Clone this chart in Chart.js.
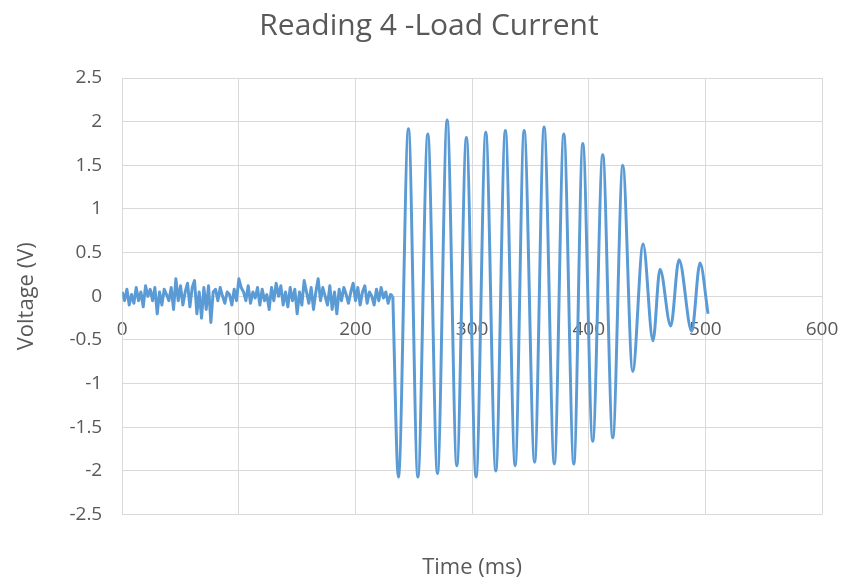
<!DOCTYPE html>
<html>
<head>
<meta charset="utf-8">
<title>Reading 4 - Load Current</title>
<script src="https://cdn.jsdelivr.net/npm/chart.js@4.4.1/dist/chart.umd.min.js"></script>
<style>
    html, body { margin: 0; padding: 0; background: #ffffff; }
    #wrap { width: 848px; height: 588px; }
</style>
</head>
<body>
<div id="wrap"><canvas id="loadChart"></canvas></div>
<script>
// Idle noise before the load switches on (ms, V)
const noiseTime = [
    0, 2, 4, 6, 8, 10, 12, 14, 16, 18, 20, 22, 24, 26, 28, 30, 32, 34, 36, 38,
    40, 42, 44, 46, 48, 50, 52, 54, 56, 58, 60, 62, 64, 66, 68, 70, 72, 74, 76, 78,
    80, 82, 84, 86, 88, 90, 92, 94, 96, 98, 100, 102, 104, 106, 108, 110, 112, 114, 116, 118,
    120, 122, 124, 126, 128, 130, 132, 134, 136, 138, 140, 142, 144, 146, 148, 150, 152, 154, 156, 158,
    160, 162, 164, 166, 168, 170, 172, 174, 176, 178, 180, 182, 184, 186, 188, 190, 192, 194, 196, 198,
    200, 202, 204, 206, 208, 210, 212, 214, 216, 218, 220, 222, 224, 226, 228, 230, 232
];
const noiseVolt = [
    0.05, -0.05, 0.08, -0.1, 0.02, -0.08, 0.1, -0.05, 0.05, -0.12, 0.12, 0.0, 0.08, -0.05, 0.1, -0.2, 0.05, -0.1, 0.08, 0.02,
    -0.05, 0.1, -0.15, 0.2, -0.05, 0.12, -0.1, 0.05, 0.15, -0.12, 0.1, 0.18, -0.2, 0.05, -0.25, 0.1, -0.15, 0.12, -0.3, 0.05,
    0.08, -0.05, 0.1, 0.0, -0.08, 0.05, 0.02, -0.1, 0.08, -0.05, 0.2, 0.1, 0.05, -0.05, 0.12, -0.08, 0.05, -0.02, 0.1, -0.1,
    0.08, -0.05, 0.02, -0.15, 0.1, -0.05, 0.15, 0.0, 0.12, -0.1, 0.05, -0.12, 0.1, -0.05, 0.08, -0.2, 0.05, -0.1, 0.18, 0.05,
    -0.08, 0.1, -0.15, 0.05, 0.2, -0.05, 0.1, 0.0, -0.1, 0.12, -0.15, 0.05, -0.2, 0.08, -0.05, 0.1, 0.02, -0.08, 0.05, 0.15,
    -0.05, 0.1, -0.1, 0.05, 0.12, -0.08, 0.05, 0.0, -0.1, 0.08, -0.05, 0.1, -0.02, 0.05, -0.08, 0.02, 0.0
];

// Load current oscillation: peaks and troughs (ms, V)
const waveTime = [
    232, 236.8, 245.4, 253.5, 262.0, 270.3, 278.6, 286.9, 295.1, 303.4, 311.7,
    320.3, 328.5, 336.9, 344.6, 353.6, 361.7, 370.5, 378.6, 387.2, 394.9,
    403.4, 412.0, 420.6, 429.2, 437.7, 446.6, 455.1, 461.1, 470.3, 477.4,
    488.3, 495.4, 502.3
];
const waveVolt = [
    0.0, -2.07, 1.92, -2.07, 1.86, -2.03, 2.02, -1.94, 1.82, -2.07, 1.88,
    -2.0, 1.9, -1.94, 1.9, -1.9, 1.94, -1.92, 1.86, -1.92, 1.75,
    -1.66, 1.62, -1.62, 1.5, -0.86, 0.6, -0.51, 0.31, -0.34, 0.42,
    -0.4, 0.38, -0.2
];

const xTicks = [0, 100, 200, 300, 400, 500, 600];
const yTicks = [-2.5, -2, -1.5, -1, -0.5, 0, 0.5, 1, 1.5, 2, 2.5];

const textColor = '#595959';
const gridColor = '#d9d9d9';
const lineColor = '#5b9bd5';
const fontFamily = "'Open Sans', 'Noto Sans', sans-serif";

const toPoints = (xs, ys) => xs.map((x, i) => ({ x: x, y: ys[i] }));

const ctx = document.getElementById('loadChart').getContext('2d');

new Chart(ctx, {
    type: 'line',
    data: {
        datasets: [{
            label: 'Idle',
            data: toPoints(noiseTime, noiseVolt),
            borderColor: lineColor,
            borderWidth: 3,
            borderJoinStyle: 'round',
            pointRadius: 0,
            fill: false,
            tension: 0
        }, {
            label: 'Load Current',
            data: toPoints(waveTime, waveVolt),
            borderColor: lineColor,
            borderWidth: 3,
            pointRadius: 0,
            fill: false,
            cubicInterpolationMode: 'monotone'
        }]
    },
    options: {
        responsive: true,
        maintainAspectRatio: false,
        animation: false,
        layout: { padding: { left: 14, right: 4, top: 0, bottom: 7 } },
        plugins: {
            legend: { display: false },
            tooltip: { enabled: false },
            title: {
                display: true,
                text: 'Reading 4 -Load Current',
                color: textColor,
                font: { family: fontFamily, size: 30, weight: 'normal' },
                padding: { top: 8, bottom: 34 }
            }
        },
        scales: {
            x: {
                type: 'linear',
                position: { y: 0 },
                min: 0,
                max: 600,
                afterBuildTicks: axis => { axis.ticks = xTicks.map(v => ({ value: v })); },
                afterFit: axis => { axis.paddingLeft = 0; axis.paddingRight = 26; },
                ticks: {
                    color: textColor,
                    font: { family: fontFamily, size: 19 },
                    padding: 22,
                    maxRotation: 0,
                    callback: v => String(v)
                },
                grid: { color: gridColor, lineWidth: 1, drawTicks: false },
                border: { color: gridColor }
            },
            xTitle: {
                type: 'linear',
                axis: 'x',
                position: 'bottom',
                min: 0,
                max: 600,
                ticks: { display: false },
                grid: { display: false, drawTicks: false },
                border: { display: false },
                title: {
                    display: true,
                    text: 'Time (ms)',
                    color: textColor,
                    font: { family: fontFamily, size: 22 },
                    padding: { top: 40, bottom: 0 }
                }
            },
            y: {
                min: -2.5,
                max: 2.5,
                afterBuildTicks: axis => { axis.ticks = yTicks.map(v => ({ value: v })); },
                ticks: {
                    color: textColor,
                    font: { family: fontFamily, size: 19 },
                    padding: 20,
                    callback: v => String(v)
                },
                grid: { color: gridColor, lineWidth: 1, drawTicks: false },
                border: { color: gridColor },
                title: {
                    display: true,
                    text: 'Voltage (V)',
                    color: textColor,
                    font: { family: fontFamily, size: 22 },
                    padding: { top: 0, bottom: 9 }
                }
            }
        }
    }
});
</script>
</body>
</html>
